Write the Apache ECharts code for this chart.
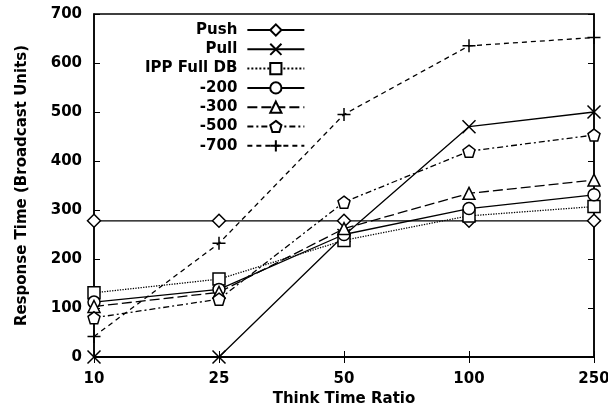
<!DOCTYPE html>
<html><head><meta charset="utf-8">
<script src="https://cdn.jsdelivr.net/npm/echarts@6/dist/echarts.min.js"></script>
<style>html,body{margin:0;padding:0;background:#fff}#c{width:608px;height:409px}</style>
</head><body><div id="c"></div>
<script>
const categories = ['10', '25', '50', '100', '250'];
const push    = [278, 278, 278, 278, 278];
const pull    = [0, 0, 248, 470, 500];
const ippFull = [131, 159, 238, 288, 307];
const ipp200  = [112, 138, 250, 303, 331];
const ipp300  = [103, 132, 262, 334, 361];
const ipp500  = [80, 118, 316, 420, 453];
const ipp700  = [42, 232, 495, 635, 652];
const yTicks  = [0, 100, 200, 300, 400, 500, 600, 700];

const FONT = 'DejaVu Sans';
const X_PATH = 'path://M0,0L10,10M10,0L0,10';
const PLUS_PATH = 'path://M5,0L5,10M0,5L10,5';
const PENT_PATH = 'path://M5,0L10,3.8L8.1,10L1.9,10L0,3.8Z';

function mk(name, data, symbol, lineType, size) {
  return {
    name, type: 'line', data, symbol, symbolSize: size || 12,
    lineStyle: {color: '#000', width: 1.3, type: lineType},
    itemStyle: {color: '#fff', borderColor: '#000', borderWidth: 1.5},
    emphasis: {disabled: true}, animation: false, z: 3
  };
}

const chart = echarts.init(document.getElementById('c'));
chart.setOption({
  backgroundColor: '#fff',
  animation: false,
  grid: {left: 94, right: 14, top: 14, bottom: 52, containLabel: false, outerBoundsMode: 'none',
    show: true, borderColor: '#000', borderWidth: 1.5, backgroundColor: 'transparent'},
  legend: {
    orient: 'vertical', left: 140, top: 17, align: 'right',
    itemWidth: 57, itemHeight: 14, itemGap: 3.3,
    textStyle: {fontFamily: FONT, fontSize: 15, fontWeight: 'bold', color: '#000', lineHeight: 16, padding: [0, 5, 0, 0]},
    data: ['Push', 'Pull', 'IPP Full DB', '-200', '-300', '-500', '-700']
  },
  xAxis: [{
    type: 'category', data: categories, boundaryGap: false,
    name: 'Think Time Ratio', nameLocation: 'middle', nameGap: 35,
    nameTextStyle: {fontFamily: FONT, fontSize: 15, fontWeight: 'bold', color: '#000'},
    axisLine: {lineStyle: {color: '#000', width: 1.5}},
    axisTick: {inside: true, length: 6, lineStyle: {color: '#000'}},
    axisLabel: {fontFamily: FONT, fontSize: 15, fontWeight: 'bold', color: '#000', margin: 15},
    splitLine: {show: false}
  }, {
    type: 'category', data: categories, boundaryGap: false, position: 'top',
    axisLine: {lineStyle: {color: '#000', width: 1.5}},
    axisTick: {inside: true, length: 6, lineStyle: {color: '#000'}},
    axisLabel: {show: false}, splitLine: {show: false}
  }],
  yAxis: [{
    type: 'value', min: yTicks[0], max: yTicks[yTicks.length - 1], interval: 100,
    name: 'Response Time (Broadcast Units)', nameLocation: 'middle', nameGap: 64,
    nameTextStyle: {fontFamily: FONT, fontSize: 15, fontWeight: 'bold', color: '#000'},
    axisLine: {show: true, lineStyle: {color: '#000', width: 1.5}},
    axisTick: {show: true, inside: true, length: 6, lineStyle: {color: '#000'}},
    axisLabel: {fontFamily: FONT, fontSize: 15, fontWeight: 'bold', color: '#000', margin: 12},
    splitLine: {show: false}
  }, {
    type: 'value', min: yTicks[0], max: yTicks[yTicks.length - 1], interval: 100, position: 'right',
    axisLine: {show: true, lineStyle: {color: '#000', width: 1.5}},
    axisTick: {show: true, inside: true, length: 6, lineStyle: {color: '#000'}},
    axisLabel: {show: false}, splitLine: {show: false}
  }],
  series: [
    mk('Push', push, 'diamond', 'solid', 13),
    mk('Pull', pull, X_PATH, 'solid', 13),
    mk('IPP Full DB', ippFull, 'rect', 'dotted', 12),
    mk('-200', ipp200, 'circle', 'solid', 12),
    mk('-300', ipp300, 'triangle', [10, 4], 12),
    mk('-500', ipp500, PENT_PATH, [6, 3, 2, 3], 12),
    mk('-700', ipp700, PLUS_PATH, [5, 4], 13)
  ]
});
</script></body></html>
